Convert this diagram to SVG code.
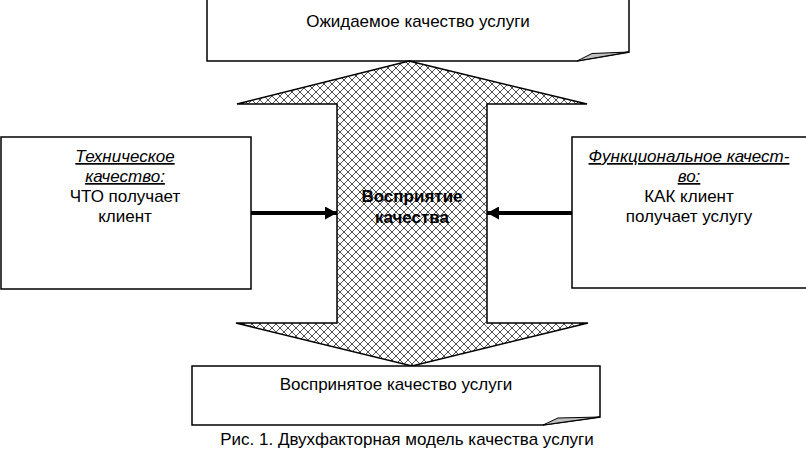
<svg xmlns="http://www.w3.org/2000/svg" width="806" height="451" viewBox="0 0 806 451">
<style>
.box{fill:#fff;stroke:#000;stroke-width:1.5}
.fold{fill:#c0c0c0;stroke:#000;stroke-width:1}
.t{font-family:"Liberation Sans",Arial,sans-serif;font-size:17px;fill:#000;text-anchor:middle}
.i{font-style:italic;text-decoration:underline}
.b{font-weight:bold}
.conn{stroke:#000;stroke-width:4;fill:none}
</style>
<defs>
<pattern id="hatch" patternUnits="userSpaceOnUse" width="8" height="8">
<rect width="8" height="8" fill="#fff"/>
<path d="M0,0 L8,8 M8,0 L0,8" stroke="#222" stroke-width="0.8"/>
</pattern>
<marker id="ah" markerUnits="userSpaceOnUse" markerWidth="12" markerHeight="13" refX="12" refY="6.5" orient="auto">
<path d="M0,0 L12,6.5 L0,13 Z" fill="#000"/>
</marker>
</defs>
<g id="expected">
<path class="box" d="M207,-1 H629 V52 L577,61 H207 Z"/>
<path class="fold" d="M577,61 L592,53.5 L629,52 Z"/>
<text class="t" x="418" y="27">Ожидаемое качество услуги</text>
</g>
<g id="perception">
<path d="M409,61 L587,104 L487,104 L487,323 L588,323 L412,366 L236,323 L337,323 L337,104 L237,104 Z" fill="url(#hatch)" stroke="#000" stroke-width="1.5"/>
<text class="t b" x="412" y="202">Восприятие</text>
<text class="t b" x="412" y="223">качества</text>
</g>
<g id="technical">
<rect class="box" x="1" y="137" width="250" height="152"/>
<text class="t i" x="125" y="162">Техническое</text>
<text class="t i" x="125" y="182">качество:</text>
<text class="t" x="125" y="202">ЧТО получает</text>
<text class="t" x="125" y="222">клиент</text>
</g>
<g id="functional">
<rect class="box" x="572" y="137" width="240" height="151"/>
<text class="t i" x="689" y="162">Функциональное качест-</text>
<text class="t i" x="689" y="182">во:</text>
<text class="t" x="689" y="202">КАК клиент</text>
<text class="t" x="689" y="222">получает услугу</text>
</g>
<g id="perceived">
<path class="box" d="M192,366 H600 V417 L543,425 H192 Z"/>
<path class="fold" d="M543,425 L558,418 L600,417 Z"/>
<text class="t" x="396" y="390">Воспринятое качество услуги</text>
</g>
<g id="connectors">
<line class="conn" x1="251" y1="213" x2="337" y2="213" marker-end="url(#ah)"/>
<line class="conn" x1="572" y1="213" x2="487" y2="213" marker-end="url(#ah)"/>
</g>
<text class="t" x="407" y="445">Рис. 1. Двухфакторная модель качества услуги</text>
</svg>
